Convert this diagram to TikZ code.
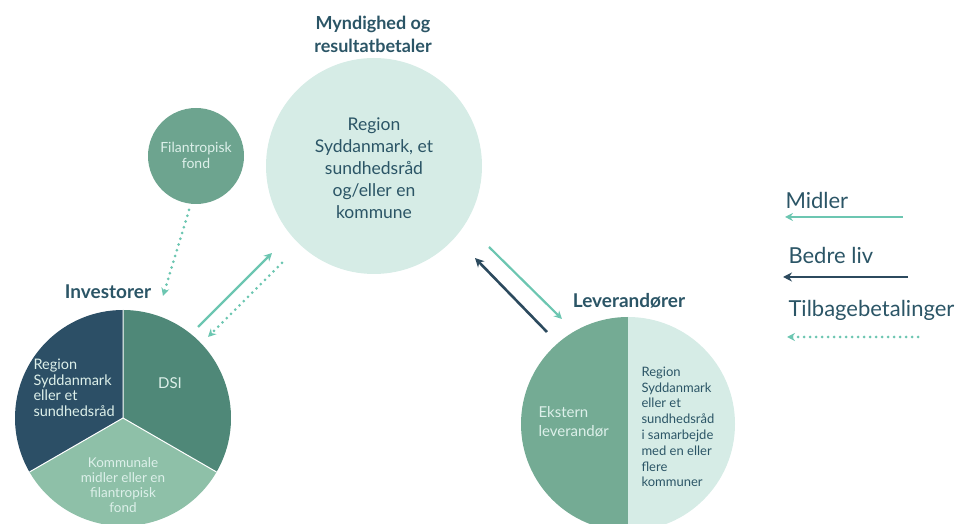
\documentclass[tikz,border=0pt]{standalone}
\usepackage{fontspec}
\setmainfont{Lato}
\usetikzlibrary{arrows.meta}

\definecolor{navy}{HTML}{2C4F66}
\definecolor{dsigreen}{HTML}{4F8878}
\definecolor{palegreen}{HTML}{8EC0A8}
\definecolor{fondgreen}{HTML}{6DA48F}
\definecolor{extgreen}{HTML}{74AB94}
\definecolor{mintpale}{HTML}{D6ECE6}
\definecolor{minttxt}{HTML}{DDF0EA}
\definecolor{arrowmint}{HTML}{6CC6B1}
\definecolor{arrowdark}{HTML}{2C4A5E}
\definecolor{headtxt}{HTML}{2B5566}

\tikzset{
	heading/.style={font=\fontsize{19}{23}\selectfont\bfseries, text=headtxt, align=center},
	midler/.style={line width=2.2pt, color=arrowmint, -{Stealth[length=8pt,width=8pt]}},
	bedreliv/.style={line width=2.6pt, color=arrowdark, -{Stealth[length=9pt,width=9pt]}},
	tilbage/.style={line width=3pt, color=arrowmint, dash pattern=on 0pt off 6pt, line cap=round, -{Stealth[length=8pt,width=8pt]}},
	legendtxt/.style={font=\fontsize{22}{24}\selectfont, text=headtxt, anchor=west}
}

\begin{document}
\begin{tikzpicture}[x=1pt, y=1pt]
	%%%%% START %%%%%
	\useasboundingbox (0, 0) rectangle (964, 524);
	
	% myndighed
	\fill[mintpale] (374, 358) circle (108);
	\node[heading, font=\fontsize{18}{23}\selectfont\bfseries] (myndtitle) at (373, 490) {Myndighed og\\resultatbetaler};
	\node[font=\fontsize{17.5}{22}\selectfont, text=headtxt, align=center] (myndighed) at (374, 356) {Region\\Syddanmark, et\\sundhedsråd\\og/eller en\\kommune};
	
	% fond
	\fill[fondgreen] (196, 368) circle (48);
	\node[font=\fontsize{14}{16}\selectfont, text=minttxt, align=center] (fond) at (196, 369) {Filantropisk\\fond};
	
	% investorer
	\node[heading] (investtitle) at (108, 232) {Investorer};
	\fill[navy] (123, 106) -- ++(90:108) arc (90:210:108) -- cycle;
	\fill[dsigreen] (123, 106) -- ++(-30:108) arc (-30:90:108) -- cycle;
	\fill[palegreen] (123, 106) -- ++(210:108) arc (210:330:108) -- cycle;
	\draw[white, line width=1pt] (123, 106) -- ++(90:108) (123, 106) -- ++(210:108) (123, 106) -- ++(330:108);
	\node[font=\fontsize{14.5}{15.5}\selectfont, text=minttxt, align=left, anchor=west] (regioninv) at (30, 136) {Region\\Syddanmark\\eller et\\sundhedsråd};
	\node[font=\fontsize{15}{16}\selectfont, text=minttxt] (dsi) at (170, 141) {DSI};
	\node[font=\fontsize{13.5}{15.2}\selectfont, text=minttxt, align=center] (kommunale) at (123, 39) {Kommunale\\midler eller en\\filantropisk\\fond};
	
	% leverandorer
	\node[heading] (levtitle) at (629, 223) {Leverandører};
	\fill[extgreen] (628, 100) -- ++(90:107) arc (90:270:107) -- cycle;
	\fill[mintpale] (628, 100) -- ++(-90:107) arc (-90:90:107) -- cycle;
	\node[font=\fontsize{15}{19}\selectfont, text=minttxt, align=left, anchor=west] (ekstern) at (535, 102) {Ekstern\\leverandør};
	\node[font=\fontsize{13}{15.8}\selectfont, text=headtxt, align=left, anchor=west] (regionlev) at (638, 97) {Region\\Syddanmark\\eller et\\sundhedsråd\\i samarbejde\\med en eller\\flere\\kommuner};
	
	% pile
	\coordinate (fondout) at (189, 314);
	\coordinate (investin) at (163, 228);
	\draw[tilbage] (fondout) -- (investin);
	
	\coordinate (investout) at (198, 197);
	\coordinate (myndin) at (272, 271);
	\draw[midler] (investout) -- (myndin);
	\coordinate (myndout) at (282, 261);
	\coordinate (investback) at (208, 187);
	\draw[tilbage] (myndout) -- (investback);
	
	\coordinate (myndlev) at (489, 277);
	\coordinate (levin) at (562, 205);
	\draw[midler] (myndlev) -- (levin);
	\coordinate (levout) at (547, 192);
	\coordinate (myndback) at (475, 266);
	\draw[bedreliv] (levout) -- (myndback);
	
	% legend
	\node[legendtxt] (legmidler) at (782, 324) {Midler};
	\coordinate (lmA) at (903, 307);
	\coordinate (lmB) at (785, 307);
	\draw[midler] (lmA) -- (lmB);
	\node[legendtxt] (legliv) at (785, 269) {Bedre liv};
	\coordinate (llA) at (908, 247);
	\coordinate (llB) at (783, 247);
	\draw[bedreliv] (llA) -- (llB);
	\node[legendtxt] (legtilbage) at (785, 214) {Tilbagebetalinger};
	\coordinate (ltA) at (918, 187);
	\coordinate (ltB) at (787, 187);
	\draw[tilbage] (ltA) -- (ltB);
	
	%%%%% END %%%%%
\end{tikzpicture}
\end{document}
